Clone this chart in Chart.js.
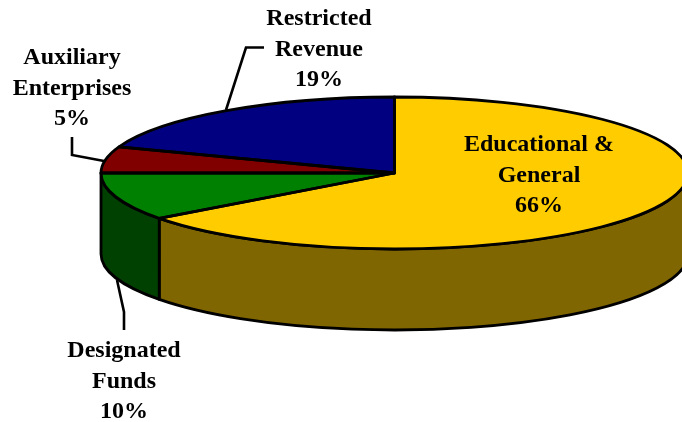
<!DOCTYPE html>
<html>
<head>
<meta charset="utf-8">
<title>Pie</title>
<script src="https://cdn.jsdelivr.net/npm/chart.js@4"></script>
<style>
html, body { margin: 0; padding: 0; background: #fff; overflow: hidden; }
canvas { display: block; }
</style>
</head>
<body>
<canvas id="mycanvas" width="682" height="422"></canvas>
<script>
var categories = [["Educational &", "General"], ["Designated", "Funds"], ["Auxiliary", "Enterprises"], ["Restricted", "Revenue"]];
var percentLabels = ["66%", "10%", "5%", "19%"];
var sliceValues = [64.8, 10.2, 5.6, 19.4];
var topColors = ["#FFCC00", "#008000", "#800000", "#000080"];
var sideColors = ["#806600", "#004000", "#400000", "#000040"];

// where the flattened pie sits on the page
var pie = { x: 394.5, y: 173, rx: 293.5, ry: 76, depth: 81 };

var labelSpots = [
	{ x: 539, y: 151 },
	{ x: 124, y: 357 },
	{ x: 72, y: 64 },
	{ x: 319, y: 25 }
];
var lineHeight = 30.5;

var leaders = [
	[[117, 280], [124, 312], [124, 330]],
	[[72, 137], [72, 155], [104, 161]],
	[[226, 110], [246, 47.5], [264, 47.5]]
];

var pie3d = {
	id: 'pie3d',
	beforeDatasetsDraw: function(chart){
		var ctx = chart.ctx;
		var arcs = chart.getDatasetMeta(0).data;

		// side wall first, only the part facing us
		ctx.save();
		ctx.strokeStyle = '#000';
		ctx.lineWidth = 2.8;
		ctx.lineJoin = 'round';
		for(var i in arcs){
			var a0 = Math.max(arcs[i].startAngle, 0);
			var a1 = Math.min(arcs[i].endAngle, Math.PI);
			if(a1 <= a0) continue;
			ctx.beginPath();
			ctx.ellipse(pie.x, pie.y, pie.rx, pie.ry, 0, a0, a1);
			ctx.ellipse(pie.x, pie.y + pie.depth, pie.rx, pie.ry, 0, a1, a0, true);
			ctx.closePath();
			ctx.fillStyle = sideColors[i];
			ctx.fill();
			ctx.stroke();
		}
		ctx.restore();

		// squash the round pie for the library's own arcs
		var first = arcs[0];
		ctx.save();
		ctx.translate(pie.x, pie.y);
		ctx.scale(pie.rx / first.outerRadius, pie.ry / first.outerRadius);
		ctx.translate(-first.x, -first.y);
	},
	afterDatasetsDraw: function(chart){
		var ctx = chart.ctx;
		var arcs = chart.getDatasetMeta(0).data;
		ctx.restore();

		// outlines here so the line width is not squashed too
		ctx.save();
		ctx.strokeStyle = '#000';
		ctx.lineWidth = 2.8;
		ctx.lineJoin = 'round';
		for(var i in arcs){
			ctx.beginPath();
			ctx.moveTo(pie.x, pie.y);
			ctx.ellipse(pie.x, pie.y, pie.rx, pie.ry, 0, arcs[i].startAngle, arcs[i].endAngle);
			ctx.closePath();
			ctx.stroke();
		}

		ctx.lineWidth = 2.6;
		ctx.lineJoin = 'miter';
		for(var l in leaders){
			ctx.beginPath();
			ctx.moveTo(leaders[l][0][0], leaders[l][0][1]);
			ctx.lineTo(leaders[l][1][0], leaders[l][1][1]);
			ctx.lineTo(leaders[l][2][0], leaders[l][2][1]);
			ctx.stroke();
		}

		ctx.fillStyle = '#000';
		ctx.font = 'bold 24px "Liberation Serif"';
		ctx.textAlign = 'center';
		ctx.textBaseline = 'alphabetic';
		for(var c in categories){
			var lines = categories[c].concat(percentLabels[c]);
			for(var n = 0; n < lines.length; n++){
				ctx.fillText(lines[n], labelSpots[c].x, labelSpots[c].y + n * lineHeight);
			}
		}
		ctx.restore();
	}
};

var chartdata = {
	labels: categories,
	datasets: [
		{
			data: sliceValues,
			backgroundColor: topColors,
			borderWidth: 0,
			clip: false
		}
	]
};

var ctx = document.getElementById('mycanvas');

var pieChart = new Chart(ctx, {
	type: 'pie',
	data: chartdata,
	options: {
		responsive: false,
		animation: false,
		plugins: {
			legend: { display: false },
			tooltip: { enabled: false }
		}
	},
	plugins: [pie3d]
});
</script>
</body>
</html>
